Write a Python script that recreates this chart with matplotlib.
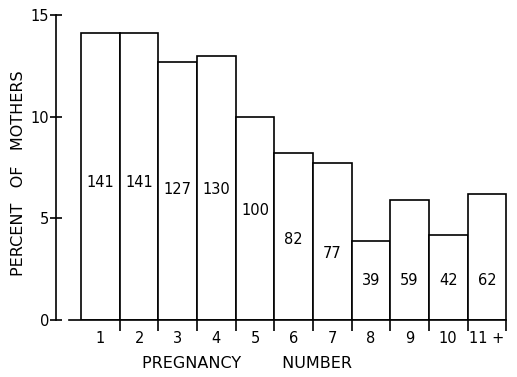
import matplotlib
matplotlib.use('Agg')
import matplotlib.pyplot as plt
import numpy as np

# pregnancy number categories and counts of mothers (total 1000)
categories = ['1', '2', '3', '4', '5', '6', '7', '8', '9', '10', '11 +']
counts = [141, 141, 127, 130, 100, 82, 77, 39, 59, 42, 62]
percent = [c / 10.0 for c in counts]

# where the count labels sit inside the bars (percent units)
label_y = [6.75, 6.75, 6.4, 6.4, 5.4, 3.95, 3.25, 1.95, 1.95, 1.95, 1.95]

plt.rc('font', family='DejaVu Sans')

fig = plt.figure(figsize=(5.17, 3.77), dpi=100)
ax = fig.add_axes([0.1083, 0.1512, 0.8782, 0.809])

x = np.arange(1, len(categories) + 1)
ax.bar(x, percent, width=1.0, color='white', edgecolor='black', linewidth=1.2)

for xi, yi, c in zip(x, label_y, counts):
    ax.text(xi, yi, str(c), ha='center', va='center', fontsize=10.5)

ax.set_xlim(-0.15, 11.6)
ax.set_ylim(0, 15)

# spines
ax.spines['top'].set_visible(False)
ax.spines['right'].set_visible(False)
ax.spines['left'].set_linewidth(1.2)
ax.spines['bottom'].set_linewidth(1.2)
ax.spines['bottom'].set_bounds(0.19, 11.5)

# y axis
ax.set_yticks([0, 5, 10, 15])
ax.tick_params(axis='y', direction='inout', length=8, width=1.2,
               labelsize=10.5, pad=1)
ax.set_ylabel('PERCENT   OF   MOTHERS', fontsize=11.5)
ax.yaxis.set_label_coords(-0.066, 0.48)

# x axis: ticks at bar edges, labels at bar centres
ax.set_xticks(np.arange(1.5, 12.0, 1.0))
ax.set_xticklabels([])
ax.tick_params(axis='x', which='major', direction='out', length=8, width=1.2)
ax.set_xticks(x, minor=True)
ax.set_xticklabels(categories, minor=True)
ax.tick_params(axis='x', which='minor', length=0, labelsize=10.5, pad=8)
ax.set_xlabel('PREGNANCY        NUMBER', fontsize=11.5)
ax.xaxis.set_label_coords(0.42, -0.118)

plt.savefig('out.png', dpi=100)
